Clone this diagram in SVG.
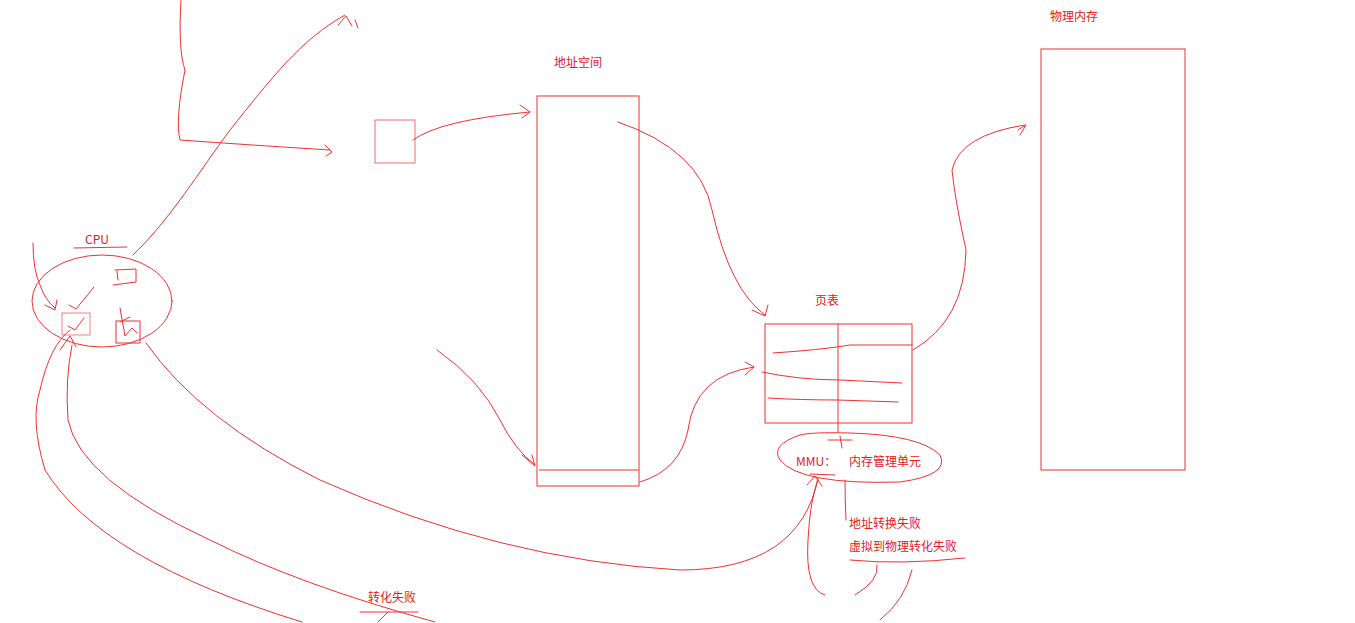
<svg xmlns="http://www.w3.org/2000/svg" width="1355" height="623" viewBox="0 0 1355 623">
<style>
.s{fill:none;stroke:#f03030;stroke-width:1;stroke-linecap:round}
.b{fill:none;stroke:#e83030;stroke-width:1}
text{font-family:"Noto Sans CJK SC","Noto Sans",sans-serif;font-size:12px;fill:#e02020}
</style>
<rect width="1355" height="623" fill="#fff"/>
<g id="cpu">
<ellipse class="s" cx="102" cy="301" rx="70" ry="46"/>
<text x="85" y="244">CPU</text>
<path class="s" d="M74 248 L127 247"/>
<rect class="b" x="62" y="313" width="28" height="22" stroke-opacity="0.6"/>
<rect class="b" x="116" y="321" width="24" height="22"/>
<path class="s" d="M115 270 L136 269 L136 282 L113 285 M117 271 L118 280"/>
<path class="s" d="M69 305 L76 309 L94 287 M68 326 L75 330 L84 318"/>
<path class="s" d="M120 308 L125 336 L132 328 L137 333 M120 322 L130 317"/>
</g>
<g id="box"><rect class="b" x="375" y="120" width="40" height="43" stroke-opacity="0.7"/></g>
<g id="addr">
<text x="554" y="67">地址空间</text>
<rect class="b" x="537" y="96" width="102" height="390"/>
<path class="b" d="M539 470 L639 470"/>
</g>
<g id="pt">
<text x="815" y="305">页表</text>
<rect class="b" x="765" y="324" width="147" height="99"/>
<path class="s" d="M838 324 L838 432 M773 353 Q820 350 850 345 L912 345 M762 372 Q800 380 840 380 L902 383 M768 398 Q800 400 838 400 L898 402"/>
</g>
<g id="mmu">
<path class="s" d="M800 435 Q770 445 780 460 Q800 485 900 482 Q950 475 940 455 Q920 435 850 433 Q810 432 800 435"/>
<text x="796" y="466">MMU：</text><text x="849" y="466">内存管理单元</text>
<path class="s" d="M828 440 L852 440 M840 436 L842 448 M810 474 L835 475"/>
</g>
<g id="phys">
<text x="1050" y="21">物理内存</text>
<rect class="b" x="1041" y="49" width="144" height="421"/>
</g>
<text x="849" y="528">地址转换失败</text>
<text x="849" y="551">虚拟到物理转化失败</text>
<path class="s" d="M850 560 Q900 565 965 558"/>
<text x="368" y="602">转化失败</text>
<path class="s" d="M360 612 L418 612"/>
<g id="connectors">
<path class="s" d="M181 0 Q178 50 185 70 Q175 120 180 140 Q250 145 330 150 M325 145 L332 152 L326 156"/>
<path class="s" d="M133 255 C170 220 200 170 230 130 C270 80 300 40 345 15 M338 25 L346 16 L352 26 M358 28 L355 20"/>
<path class="s" d="M413 140 Q440 120 530 112 M520 105 L530 112 L522 118"/>
<path class="s" d="M618 122 Q700 150 712 210 Q730 290 765 315 M752 310 L765 316 L768 305"/>
<path class="s" d="M437 350 Q480 380 500 420 Q515 450 535 465 M522 455 L535 466 L532 455"/>
<path class="s" d="M640 482 Q680 470 688 430 Q695 375 754 367 M745 375 L754 367 L745 362"/>
<path class="s" d="M913 350 Q965 320 966 250 Q955 200 952 170 Q960 135 1025 125 M1018 130 L1026 125 L1020 135"/>
<path class="s" d="M33 243 Q33 270 40 285 Q45 300 55 308 M45 305 L55 310 L57 300"/>
<path class="s" d="M302 622 Q100 560 45 470 Q30 420 40 390 Q50 345 70 330 M60 350 L70 336 L76 347"/>
<path class="s" d="M435 622 Q300 585 210 540 Q80 480 68 420 Q65 380 72 345"/>
<path class="s" d="M146 343 Q200 420 320 480 Q500 560 680 570 Q800 570 818 478 M807 485 L815 476 L822 486"/>
<path class="s" d="M825 595 Q805 590 808 540 Q810 500 818 480 M845 480 Q845 500 846 520"/>
<path class="s" d="M855 595 Q880 580 877 565 M880 620 Q905 600 912 570"/>
<path class="s" d="M378 622 L388 612"/>
</g>
</svg>
